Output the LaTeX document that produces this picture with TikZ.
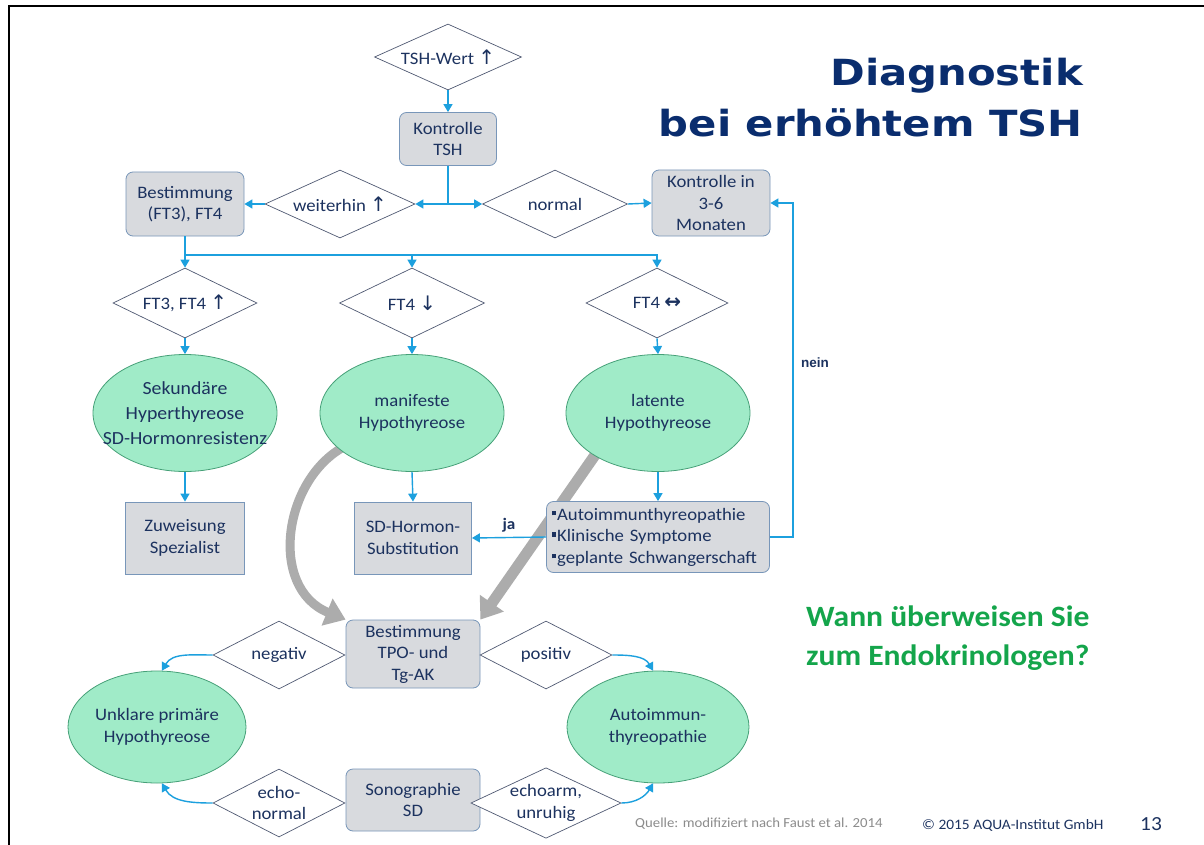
\documentclass[tikz,border=0pt]{standalone}
\usepackage{fontspec}
\setmainfont{Carlito}[FakeStretch=1.07]
\newfontfamily\titlef{DejaVu Sans}[FakeStretch=1.16]
\newfontfamily\symf{DejaVu Sans}
\newfontfamily\nf{Liberation Sans}
\usetikzlibrary{shapes.geometric,arrows.meta,calc}
\pgfdeclarelayer{bg}
\pgfsetlayers{bg,main}
\definecolor{blu}{RGB}{28,160,222}
\definecolor{txt}{RGB}{28,50,95}
\definecolor{boxf}{RGB}{216,218,222}
\definecolor{boxb}{RGB}{120,150,185}
\definecolor{ellf}{RGB}{160,235,200}
\definecolor{ellb}{RGB}{70,160,120}
\definecolor{diab}{RGB}{80,90,115}
\definecolor{gry}{RGB}{172,172,172}
\definecolor{ttl}{RGB}{10,45,110}
\definecolor{grn}{RGB}{20,165,75}
\definecolor{qgr}{RGB}{140,140,140}
\newcommand\bodyf{\fontsize{17.5}{21.5}\selectfont}
\newcommand\upa{{\symf\fontsize{20}{17}\selectfont ↑}}
\newcommand\dna{{\symf\fontsize{20}{17}\selectfont ↓}}
\newcommand\lra{{\symf\bfseries\fontsize{20}{17}\selectfont ↔}}
\newcommand\bul{\rule[0.55ex]{0.26em}{0.26em}\hspace{0.06em}}
\tikzset{
  dia/.style={diamond, aspect=2.13, draw=diab, fill=white, line width=0.7pt, inner sep=0pt,
    minimum width=145pt, minimum height=68pt, text=txt, font=\bodyf, align=center},
  ell/.style={ellipse, draw=ellb, fill=ellf, line width=0.8pt, inner sep=0pt,
    minimum width=184pt, minimum height=117pt, text=txt, font=\bodyf, align=center},
  rbox/.style={rectangle, rounded corners=7pt, draw=boxb, fill=boxf, line width=0.8pt,
    inner sep=0pt, text=txt, font=\bodyf, align=center},
  sbox/.style={rectangle, draw=boxb, fill=boxf, line width=0.8pt,
    inner sep=0pt, text=txt, font=\bodyf, align=center},
  conn/.style={draw=blu, line width=1.4pt},
  arr/.style={conn, -{Triangle[length=8pt,width=9pt]}},
  garr/.style={draw=gry, line width=11pt, -{Triangle[length=20pt,width=28pt]}},
}
\begin{document}
\begin{tikzpicture}[x=1pt,y=-1pt]
\useasboundingbox (0,0) rectangle (1204,845);
\begin{pgfonlayer}{bg}
\fill[white] (0,0) rectangle (1204,845);
\end{pgfonlayer}
\draw[line width=2.5pt] (9,845) -- (9,6) -- (1204,6);

% title
\node[anchor=base east, text=ttl, font=\titlef\bfseries\fontsize{36}{40}\selectfont, inner sep=0pt] (t1) at (1083,86) {Diagnostik};
\node[anchor=base east, text=ttl, font=\titlef\bfseries\fontsize{36}{40}\selectfont, inner sep=0pt] (t2) at (1083,137) {bei erhöhtem TSH};

% nodes
\node[dia, minimum width=147pt, minimum height=66pt] (tsh) at (448,57) {TSH-Wert \upa};
\node[rbox, minimum width=97pt, minimum height=53pt] (kon) at (448,139) {Kontrolle\\TSH};
\node[dia, minimum width=150pt] (wei) at (340,204) {weiterhin \upa};
\node[dia] (nor) at (555,204) {normal};
\node[rbox, minimum width=118pt, minimum height=64pt] (best) at (185,204) {Bestimmung\\(FT3), FT4};
\node[rbox, minimum width=118pt, minimum height=66pt] (k36) at (711,203) {Kontrolle in\\3-6\\Monaten};

\node[dia, minimum height=70pt, minimum width=144pt] (d1) at (185,303) {FT3, FT4 \upa};
\node[dia, minimum height=70pt] (d2) at (412,303) {FT4 \dna};
\node[dia, minimum height=70pt, minimum width=142pt] (d3) at (657,303) {FT4 \lra};

\node[ell, label={[font=\fontsize{18.5}{25}\selectfont, text=txt, align=center]center:Sekundäre\\Hyperthyreose\\SD-Hormonresistenz}] (e1) at (185,413) {};
\node[ell] (e2) at (412,413) {manifeste\\Hypothyreose};
\node[ell] (e3) at (658,413) {latente\\Hypothyreose};

\node[sbox, minimum width=119pt, minimum height=72pt] (zuw) at (185,538) {Zuweisung\\Spezialist};
\node[sbox, minimum width=117pt, minimum height=72pt] (sub) at (413,538) {SD-Hormon-\\Substitution};
\node[rbox, minimum width=223pt, minimum height=71pt, align=left, text width=213pt] (lst) at (658,537)
  {\bul Autoimmunthyreopathie\\\bul Klinische Symptome\\\bul geplante Schwangerschaft};

\node[rbox, minimum width=134pt, minimum height=68pt] (tpo) at (413,654) {Bestimmung\\TPO- und\\Tg-AK};
\node[dia, minimum width=132pt] (neg) at (279,655) {negativ};
\node[dia, minimum width=132pt] (pos) at (546,655) {positiv};
\node[ell, minimum width=178pt, minimum height=112pt] (unk) at (157,727) {Unklare primäre\\Hypothyreose};
\node[ell, minimum width=182pt, minimum height=112pt] (aut) at (658,727) {Autoimmun-\\thyreopathie};
\node[rbox, minimum width=134pt, minimum height=62pt] (son) at (413,800) {Sonographie\\SD};
\node[dia, minimum width=132pt] (ech) at (279,803) {echo-\\normal};
\node[dia, minimum width=132pt] (arm) at (546,803) {echoarm,\\unruhig};

% gray arrows
\begin{pgfonlayer}{bg}
\draw[garr, line width=9pt] ($(e2.207)+(6,-4)$) .. controls (283,478) and (268,588) .. (tpo.north west);
\draw[garr] ($(e3.214)!-12pt!(tpo.north east)$) -- (tpo.north east);
\end{pgfonlayer}

% connectors
\draw[arr] (tsh.south) -- (kon.north);
\coordinate (j1) at (448,204);
\draw[conn] (kon.south) -- (j1);
\draw[arr] (j1) -- (wei.east);
\draw[arr] (j1) -- (nor.west);
\draw[arr] (wei.west) -- (best.east);
\draw[arr] (nor.east) -- (k36.west);
\coordinate (j2) at (185,255);
\draw[conn] (best.south) -- (j2);
\draw[arr] (j2) -- (d1.north);
\draw[arr] (j2) -| (d3.north);
\draw[arr] (d2.north |- j2) -- (d2.north);
\draw[arr] (d1.south) -- (e1.north);
\draw[arr] (d2.south) -- (e2.north);
\draw[arr] (d3.south) -- (e3.north);
\draw[arr] (e1.south) -- (zuw.north);
\draw[arr] (e2.south) -- (sub.north);
\draw[arr] (e3.south) -- (lst.north);
\draw[arr] (lst.west) -- node[above=1pt, text=txt, font=\bfseries\fontsize{16}{18}\selectfont] (ja) {ja} (sub.east);
\draw[arr] (lst.east) -- ++(23,0) |- (k36.east);
\node[text=txt, font=\nf\bfseries\fontsize{13.5}{16}\selectfont] (nein) at (815,363) {nein};

\draw[arr] (neg.west) to[out=180,in=60] (unk.85);
\draw[arr] (ech.west) to[out=180,in=-60] (unk.275);
\draw[arr] (pos.east) to[out=0,in=120] (aut.95);
\draw[arr] (arm.east) to[out=0,in=-120] (aut.265);

% side text
\node[anchor=base west, text=grn, font=\bfseries\fontsize{29.5}{38}\selectfont, inner sep=0pt] (q1) at (806,626) {Wann überweisen Sie};
\node[anchor=base west, text=grn, font=\bfseries\fontsize{29.5}{38}\selectfont, inner sep=0pt] (q2) at (806,665) {zum Endokrinologen?};

% footer
\node[anchor=base west, text=qgr, font=\fontsize{13.8}{16}\selectfont, inner sep=0pt] (src) at (635,827) {Quelle: modifiziert nach Faust et al. 2014};
\node[anchor=base west, text=txt, font=\fontsize{14.4}{16}\selectfont, inner sep=0pt] (cpy) at (922,829) {© 2015 AQUA-Institut GmbH};
\node[anchor=base west, text=txt, font=\fontsize{20}{22}\selectfont, inner sep=0pt] (pg) at (1140,830) {13};
\end{tikzpicture}
\end{document}
